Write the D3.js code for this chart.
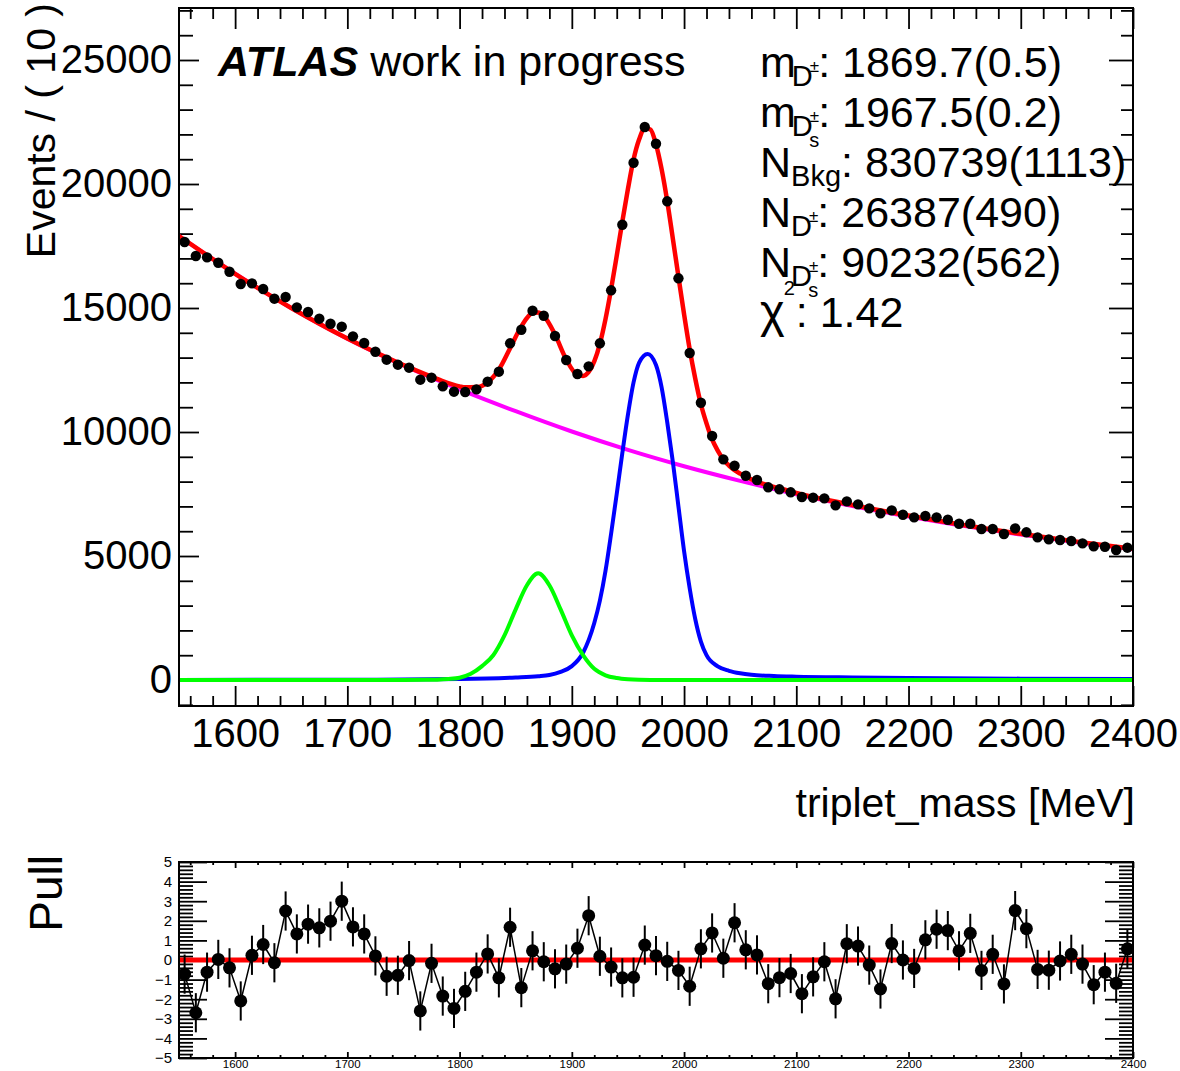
<!DOCTYPE html>
<html><head><meta charset="utf-8">
<script src="https://cdn.jsdelivr.net/npm/d3@7"></script>
<style>
body{margin:0;background:#fff}
svg text{font-family:"Liberation Sans",Arial,Helvetica,sans-serif;fill:#000}
</style>
</head><body>
<svg id="c" width="1180" height="1071"></svg>
<script>
// ---------------- data ----------------
const binCenters = [1555,1565,1575,1585,1595,1605,1615,1625,1635,1645,1655,1665,1675,1685,1695,1705,1715,1725,1735,1745,1755,1765,1775,1785,1795,1805,1815,1825,1835,1845,1855,1865,1875,1885,1895,1905,1915,1925,1935,1945,1955,1965,1975,1985,1995,2005,2015,2025,2035,2045,2055,2065,2075,2085,2095,2105,2115,2125,2135,2145,2155,2165,2175,2185,2195,2205,2215,2225,2235,2245,2255,2265,2275,2285,2295,2305,2315,2325,2335,2345,2355,2365,2375,2385,2395];
const events = [17660,17096,17043,16826,16463,15967,15995,15765,15376,15443,15027,14838,14569,14367,14247,13858,13588,13238,12916,12715,12594,12110,12190,11842,11626,11613,11721,12029,12432,13576,14125,14891,14689,13870,12902,12338,12648,13576,15713,18358,20858,22297,21624,19302,16197,13185,11180,9838,8898,8641,8237,8064,7770,7689,7568,7379,7352,7325,7043,7204,7083,6922,6720,6841,6665,6559,6612,6559,6464,6302,6302,6088,6088,5887,6116,5955,5753,5672,5645,5605,5511,5390,5375,5242,5336];
const pulls = [-0.72,-2.69,-0.62,0.03,-0.40,-2.09,0.24,0.79,-0.14,2.50,1.33,1.83,1.64,1.98,3.00,1.69,1.33,0.21,-0.83,-0.78,-0.03,-2.60,-0.17,-1.84,-2.47,-1.60,-0.62,0.31,-0.91,1.67,-1.41,0.47,-0.09,-0.45,-0.21,0.60,2.26,0.19,-0.36,-0.91,-0.88,0.76,0.22,-0.07,-0.53,-1.34,0.57,1.38,0.09,1.90,0.52,0.26,-1.21,-0.90,-0.69,-1.72,-0.86,-0.09,-1.98,0.83,0.71,-0.26,-1.48,0.84,0.00,-0.43,1.03,1.57,1.50,0.47,1.36,-0.53,0.29,-1.22,2.52,1.60,-0.48,-0.52,-0.05,0.29,-0.21,-1.26,-0.62,-1.19,0.57];

// fitted curves
const totalMass  = [1550,1600,1650,1700,1750,1780,1800,1805,1815,1825,1835,1845,1855,1865,1870,1875,1885,1895,1905,1910,1915,1925,1930,1935,1940,1945,1950,1955,1960,1965,1970,1975,1980,1985,1990,1995,2000,2005,2010,2015,2020,2025,2030,2035,2040,2045,2050,2060,2070,2080,2090,2100,2150,2200,2250,2300,2350,2400];
const totalValues= [17900,16380,15000,13770,12700,12140,11840,11800,11810,12000,12520,13380,14260,14800,14820,14680,13930,12930,12300,12260,12420,13554,14550,15760,17100,18480,19800,20985,21800,22250,22200,21600,20600,19312,17800,16264,14750,13339,12150,11120,10350,9701,9250,8890,8650,8464,8320,8090,7920,7790,7670,7540,7060,6630,6240,5895,5580,5295];
const bkgMass    = [1550,1600,1650,1700,1750,1800,1850,1900,1950,2000,2050,2100,2150,2200,2250,2300,2350,2400];
const bkgValues  = [17900,16380,15000,13765,12685,11720,10840,10020,9280,8620,8030,7490,7015,6590,6205,5865,5555,5272];
const dpMass     = [1550,1750,1770,1780,1790,1800,1810,1820,1830,1840,1850,1860,1870,1880,1890,1900,1910,1920,1930,1940,1950,1960,1980,2400];
const dpValues   = [0,0,8,15,40,94,250,560,1000,1800,2850,3820,4300,3820,2850,1800,1000,450,190,80,30,10,0,0];
const dsMass     = [1550,1700,1800,1850,1870,1880,1890,1900,1910,1920,1925,1930,1935,1940,1945,1950,1955,1960,1967.5,1975,1980,1985,1990,1995,2000,2005,2010,2015,2020,2030,2040,2050,2060,2080,2100,2150,2200,2300,2400];
const dsValues   = [5,12,40,100,150,200,330,560,1100,2300,3200,4400,5900,7500,9150,10700,12000,12800,13150,12700,11800,10400,8800,7000,5200,3700,2450,1550,1000,550,370,270,210,160,135,105,85,55,40];

const xTicks   = [1600,1700,1800,1900,2000,2100,2200,2300,2400];
const yTicks   = [0,5000,10000,15000,20000,25000];
const pullTicks= [-5,-4,-3,-2,-1,0,1,2,3,4,5];

const legendLines = [
  {base:"m", sub:"D", sup:"±", subsub:null, val:": 1869.7(0.5)"},
  {base:"m", sub:"D", sup:"±", subsub:"s", val:": 1967.5(0.2)"},
  {base:"N", sub:"Bkg", sup:null, subsub:null, val:": 830739(1113)"},
  {base:"N", sub:"D", sup:"±", subsub:null, val:": 26387(490)"},
  {base:"N", sub:"D", sup:"±", subsub:"s", val:": 90232(562)"}
];

// ---------------- layout ----------------
const svg = d3.select("#c");
const F = {l:179, r:1133, t:8, b:706};
const P = {l:179, r:1133, t:862, b:1058};

const x = d3.scaleLinear().domain([1550,2400]).range([F.l,F.r]);
const y = d3.scaleLinear().domain([-1048,27097]).range([F.b,F.t]);
const yp = d3.scaleLinear().domain([-5,5]).range([P.b,P.t]);

const xMinor = d3.range(1560,2400,20).filter(v=>v%100!==0);
const yMinor = d3.range(-1000,27001,1000).filter(v=>v%5000!==0);
const pMinor = d3.range(-50,51,2).map(v=>v/10).filter(v=>Math.abs(v-Math.round(v))>1e-6);

function ticks(g, axis){
  g.call(axis);
  g.select(".domain").remove();
  g.selectAll(".tick line").attr("stroke","#000").attr("stroke-width",1.8);
  g.selectAll("text").remove();
  return g;
}
function labels(g, axis, size){
  g.call(axis);
  g.select(".domain").remove();
  g.selectAll(".tick line").remove();
  g.attr("font-family",null).attr("font-size",null);
  g.selectAll("text").style("font-size",size+"px").attr("fill","#000");
  return g;
}

// clip
const defs = svg.append("defs");
defs.append("clipPath").attr("id","clipMain").append("rect")
  .attr("x",F.l).attr("y",F.t).attr("width",F.r-F.l).attr("height",F.b-F.t);
defs.append("clipPath").attr("id","clipPull").append("rect")
  .attr("x",P.l).attr("y",P.t).attr("width",P.r-P.l).attr("height",P.b-P.t);

// ---------------- main panel ticks ----------------
ticks(svg.append("g").attr("transform",`translate(0,${F.b})`), d3.axisTop(x).tickValues(xTicks).tickSize(20));
ticks(svg.append("g").attr("transform",`translate(0,${F.b})`), d3.axisTop(x).tickValues(xMinor).tickSize(10));
ticks(svg.append("g").attr("transform",`translate(0,${F.t})`), d3.axisBottom(x).tickValues(xTicks).tickSize(21));
ticks(svg.append("g").attr("transform",`translate(0,${F.t})`), d3.axisBottom(x).tickValues(xMinor).tickSize(11));
ticks(svg.append("g").attr("transform",`translate(${F.l},0)`), d3.axisRight(y).tickValues(yTicks).tickSize(20));
ticks(svg.append("g").attr("transform",`translate(${F.l},0)`), d3.axisRight(y).tickValues(yMinor).tickSize(14));
ticks(svg.append("g").attr("transform",`translate(${F.r},0)`), d3.axisLeft(y).tickValues(yTicks).tickSize(24));
ticks(svg.append("g").attr("transform",`translate(${F.r},0)`), d3.axisLeft(y).tickValues(yMinor).tickSize(12));

labels(svg.append("g").attr("transform",`translate(0,${F.b})`),
  d3.axisBottom(x).tickValues(xTicks).tickSize(0).tickPadding(13).tickFormat(d3.format("d")), 40);
labels(svg.append("g").attr("transform",`translate(${F.l},0)`),
  d3.axisLeft(y).tickValues(yTicks).tickSize(0).tickPadding(7).tickFormat(d3.format("d")), 40);

// ---------------- curves ----------------
const gMain = svg.append("g").attr("clip-path","url(#clipMain)");
const line = d3.line().x(d=>x(d[0])).y(d=>y(d[1])).curve(d3.curveMonotoneX);
const curves = [
  {m:bkgMass, v:bkgValues, c:"#ff00ff", w:4},
  {m:dsMass,  v:dsValues,  c:"#0000ff", w:4},
  {m:dpMass,  v:dpValues,  c:"#00ff00", w:4},
  {m:totalMass,v:totalValues,c:"#ff0000", w:4.5}
];
curves.forEach(cv=>{
  gMain.append("path").datum(d3.zip(cv.m,cv.v))
    .attr("d",line).attr("fill","none").attr("stroke",cv.c).attr("stroke-width",cv.w)
    .attr("stroke-linejoin","round");
});
// data points
const pts = d3.zip(binCenters, events);
gMain.selectAll("line.err").data(pts).join("line")
  .attr("x1",d=>x(d[0])).attr("x2",d=>x(d[0]))
  .attr("y1",d=>y(d[1]-Math.sqrt(d[1]))).attr("y2",d=>y(d[1]+Math.sqrt(d[1])))
  .attr("stroke","#000").attr("stroke-width",1.5);
gMain.selectAll("circle.pt").data(pts).join("circle")
  .attr("cx",d=>x(d[0])).attr("cy",d=>y(d[1])).attr("r",5.2).attr("fill","#000");

// frame
svg.append("rect").attr("x",F.l).attr("y",F.t).attr("width",F.r-F.l).attr("height",F.b-F.t)
  .attr("fill","none").attr("stroke","#000").attr("stroke-width",2);

// axis titles
svg.append("text").attr("x",1135).attr("y",817).attr("text-anchor","end")
  .style("font-size","41px").text("triplet_mass [MeV]");
svg.append("text").attr("transform","translate(55,3) rotate(-90)").attr("text-anchor","end")
  .style("font-size","41px").text("Events / ( 10 )");

// ATLAS label
const at = svg.append("text").attr("x",218).attr("y",76).style("font-size","43px");
at.append("tspan").style("font-weight","bold").style("font-style","italic").text("ATLAS");
at.append("tspan").attr("dx",12).text("work in progress");

// legend
const lx = 760, ly0 = 77, ldy = 50;
legendLines.forEach((L,i)=>{
  const t = svg.append("text").attr("x",lx).attr("y",ly0+i*ldy).style("font-size","43px");
  t.append("tspan").text(L.base);
  const subShift = L.base==="m" ? -4 : 0;
  if(L.sup){
    t.append("tspan").style("font-size","29px").attr("dx",subShift).attr("dy",9).text(L.sub);
    t.append("tspan").style("font-size","17px").attr("dx",-3).attr("dy",-14).text(L.sup);
    if(L.subsub){
      t.append("tspan").style("font-size","20px").attr("dx",-10).attr("dy",25).text(L.subsub);
      t.append("tspan").attr("dx",-1).attr("dy",-20).text(L.val);
    } else {
      t.append("tspan").attr("dx",-1).attr("dy",5).text(L.val);
    }
  } else {
    t.append("tspan").style("font-size","29px").attr("dx",subShift).attr("dy",9).text(L.sub);
    t.append("tspan").attr("dy",-9).text(L.val);
  }
});
const chi = svg.append("text").attr("x",lx).attr("y",ly0+5*ldy).style("font-size","43px");
chi.append("tspan").style("font-size","47px").text("χ");
chi.append("tspan").style("font-size","20px").attr("dx",-1).attr("dy",-32).text("2");
chi.append("tspan").attr("dx",1).attr("dy",32).text(": 1.42");

// ---------------- pull panel ----------------
ticks(svg.append("g").attr("transform",`translate(0,${P.t})`), d3.axisBottom(x).tickValues(xTicks).tickSize(6));
ticks(svg.append("g").attr("transform",`translate(0,${P.t})`), d3.axisBottom(x).tickValues(xMinor).tickSize(3));
ticks(svg.append("g").attr("transform",`translate(0,${P.b})`), d3.axisTop(x).tickValues(xTicks).tickSize(6));
ticks(svg.append("g").attr("transform",`translate(0,${P.b})`), d3.axisTop(x).tickValues(xMinor).tickSize(3));
ticks(svg.append("g").attr("transform",`translate(${P.l},0)`), d3.axisRight(yp).tickValues(pullTicks).tickSize(28));
ticks(svg.append("g").attr("transform",`translate(${P.l},0)`), d3.axisRight(yp).tickValues(pMinor).tickSize(14));
ticks(svg.append("g").attr("transform",`translate(${P.r},0)`), d3.axisLeft(yp).tickValues(pullTicks).tickSize(28));
ticks(svg.append("g").attr("transform",`translate(${P.r},0)`), d3.axisLeft(yp).tickValues(pMinor).tickSize(14));

labels(svg.append("g").attr("transform",`translate(0,${P.b})`),
  d3.axisBottom(x).tickValues(xTicks).tickSize(0).tickPadding(2).tickFormat(d3.format("d")), 11.5);
labels(svg.append("g").attr("transform",`translate(${P.l},0)`),
  d3.axisLeft(yp).tickValues(pullTicks).tickSize(0).tickPadding(7).tickFormat(d3.format("d")), 15);

const gPull = svg.append("g").attr("clip-path","url(#clipPull)");
gPull.append("line").attr("x1",F.l).attr("x2",F.r).attr("y1",yp(0)).attr("y2",yp(0))
  .attr("stroke","#ff0000").attr("stroke-width",5);
const pp = d3.zip(binCenters, pulls);
gPull.append("path").datum(pp)
  .attr("d", d3.line().x(d=>x(d[0])).y(d=>yp(d[1])))
  .attr("fill","none").attr("stroke","#000").attr("stroke-width",1.5);
gPull.selectAll("line.perr").data(pp).join("line")
  .attr("x1",d=>x(d[0])).attr("x2",d=>x(d[0]))
  .attr("y1",d=>yp(d[1]-1)).attr("y2",d=>yp(d[1]+1))
  .attr("stroke","#000").attr("stroke-width",2);
gPull.selectAll("circle.pp").data(pp).join("circle")
  .attr("cx",d=>x(d[0])).attr("cy",d=>yp(d[1])).attr("r",6.5).attr("fill","#000");

svg.append("rect").attr("x",P.l).attr("y",P.t).attr("width",P.r-P.l).attr("height",P.b-P.t)
  .attr("fill","none").attr("stroke","#000").attr("stroke-width",2);

svg.append("text").attr("transform","translate(62,855) rotate(-90)").attr("text-anchor","end")
  .style("font-size","46px").text("Pull");
</script>
</body></html>
